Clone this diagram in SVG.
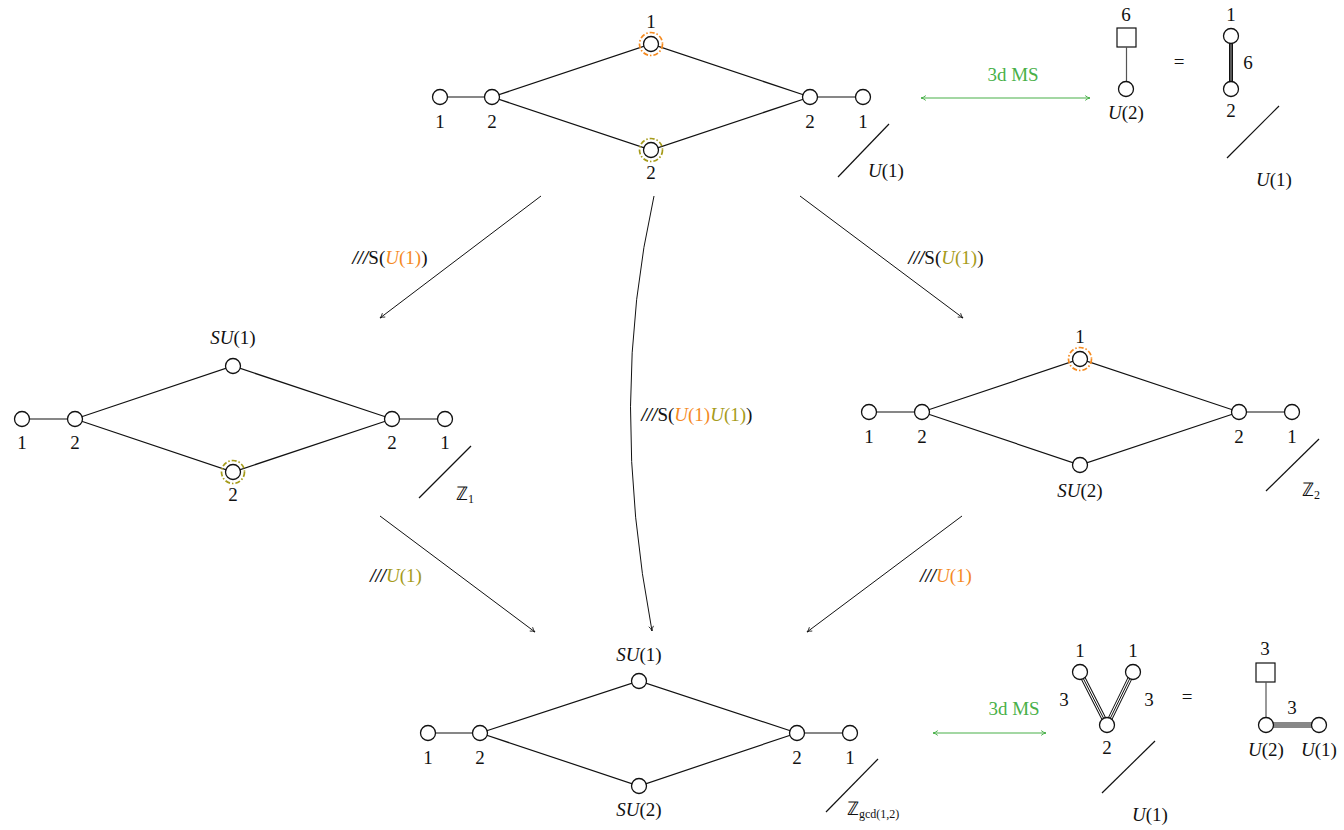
<svg xmlns="http://www.w3.org/2000/svg" width="1344" height="830" viewBox="0 0 1344 830">
<style>
text{font-family:'Liberation Serif','Times New Roman',serif;font-size:19px;fill:#111;text-anchor:middle}
.it{font-style:italic}
.n{fill:#fff;stroke:#111;stroke-width:1.3}
.e{stroke:#111;stroke-width:1.2;fill:none}
.g{stroke:#555;stroke-width:1.2;fill:none}
.or{fill:#f58a1f}
.ol{fill:#a69b1a}
.gr{fill:#48b048}
.sl{font-style:italic;font-weight:bold}
.co{fill:none;stroke:#f58a1f;stroke-width:1.7;stroke-dasharray:5 2 1.5 2}
.cl{fill:none;stroke:#a69b1a;stroke-width:1.7;stroke-dasharray:5 2 1.5 2}
.arr{stroke:#111;stroke-width:1;fill:none;marker-end:url(#ah)}
.garr{stroke:#48b048;stroke-width:1.2;fill:none;marker-end:url(#gh);marker-start:url(#gs)}
</style>
<defs>
<marker id="ah" viewBox="0 0 10 10" refX="9" refY="5" markerWidth="8" markerHeight="8" markerUnits="userSpaceOnUse" orient="auto"><path d="M3,2 Q6,4.5 9,5 Q6,5.5 3,8" fill="none" stroke="#111" stroke-width="1"/></marker>
<marker id="gh" viewBox="0 0 10 10" refX="9" refY="5" markerWidth="8" markerHeight="8" markerUnits="userSpaceOnUse" orient="auto"><path d="M3,2 Q6,4.5 9,5 Q6,5.5 3,8" fill="none" stroke="#48b048" stroke-width="1.2"/></marker>
<marker id="gs" viewBox="0 0 10 10" refX="1" refY="5" markerWidth="8" markerHeight="8" markerUnits="userSpaceOnUse" orient="auto"><path d="M7,2 Q4,4.5 1,5 Q4,5.5 7,8" fill="none" stroke="#48b048" stroke-width="1.2"/></marker>
</defs>

<g id="connectors">
<path class="arr" d="M541,196 L380,318"/>
<path class="arr" d="M800,196 L963,318"/>
<path class="arr" d="M654,196 Q608,400 652,631"/>
<path class="arr" d="M380,516 L535,632"/>
<path class="arr" d="M962,516 L807,632"/>
<path class="garr" d="M921,98 L1090,98"/>
<path class="garr" d="M933,733 L1046,733"/>
<text x="390" y="264"><tspan class="sl">///</tspan>S(<tspan class="it or">U</tspan><tspan class="or">(1)</tspan>)</text>
<text x="946" y="264"><tspan class="sl">///</tspan>S(<tspan class="it ol">U</tspan><tspan class="ol">(1)</tspan>)</text>
<text x="697" y="421"><tspan class="sl">///</tspan>S(<tspan class="it or">U</tspan><tspan class="or">(1)</tspan><tspan class="it ol">U</tspan><tspan class="ol">(1)</tspan>)</text>
<text x="396" y="582"><tspan class="sl">///</tspan><tspan class="it ol">U</tspan><tspan class="ol">(1)</tspan></text>
<text x="946" y="582"><tspan class="sl">///</tspan><tspan class="it or">U</tspan><tspan class="or">(1)</tspan></text>
<text class="gr" x="1013" y="81">3d MS</text>
<text class="gr" x="1014" y="715">3d MS</text>
</g>

<g id="quiver-top">
<path class="e" d="M440,97 L492,97 L651,44 L810,97 L863,97 M492,97 L651,150 L810,97"/>
<circle class="n" cx="440" cy="97" r="7.5"/><circle class="n" cx="492" cy="97" r="7.5"/>
<circle class="n" cx="651" cy="44" r="7.5"/><circle class="n" cx="651" cy="150" r="7.5"/>
<circle class="n" cx="810" cy="97" r="7.5"/><circle class="n" cx="863" cy="97" r="7.5"/>
<circle class="co" cx="651" cy="44" r="11.5"/><circle class="cl" cx="651" cy="150" r="11.5"/>
<text x="440" y="128">1</text><text x="492" y="128">2</text><text x="651" y="28">1</text>
<text x="651" y="179">2</text><text x="810" y="128">2</text><text x="863" y="128">1</text>
<path class="e" d="M838,177 L889,124"/>
<text x="886" y="177"><tspan class="it">U</tspan>(1)</text>
</g>

<g id="mirror-top">
<rect x="1117" y="28" width="19" height="19" fill="#fff" stroke="#111" stroke-width="1.2"/>
<path class="g" d="M1126.5,47 L1126.5,82"/>
<circle class="n" cx="1126" cy="89" r="7.5"/>
<text x="1126" y="21">6</text>
<text x="1126" y="119"><tspan class="it">U</tspan>(2)</text>
<text x="1179" y="68">=</text>
<path d="M1231,43 L1231,82" stroke="#111" stroke-width="4"/>
<path d="M1231,43 L1231,82" stroke="#777" stroke-width="1.4"/>
<circle class="n" cx="1231" cy="36" r="7.5"/><circle class="n" cx="1231" cy="89" r="7.5"/>
<text x="1231" y="21">1</text><text x="1231" y="117">2</text><text x="1248" y="69">6</text>
<path class="e" d="M1227,158 L1279,106"/>
<text x="1274" y="186"><tspan class="it">U</tspan>(1)</text>
</g>

<g id="quiver-left">
<path class="e" d="M22,419 L75,419 L233,366 L392,419 L445,419 M75,419 L233,472 L392,419"/>
<circle class="n" cx="22" cy="419" r="7.5"/><circle class="n" cx="75" cy="419" r="7.5"/>
<circle class="n" cx="233" cy="366" r="7.5"/><circle class="n" cx="233" cy="472" r="7.5"/>
<circle class="n" cx="392" cy="419" r="7.5"/><circle class="n" cx="445" cy="419" r="7.5"/>
<circle class="cl" cx="233" cy="472" r="11.5"/>
<text x="22" y="449">1</text><text x="75" y="449">2</text>
<text x="233" y="344"><tspan class="it">SU</tspan>(1)</text>
<text x="233" y="501">2</text><text x="392" y="449">2</text><text x="445" y="449">1</text>
<path class="e" d="M419,498 L471,446"/>
<text x="456" y="500" style="text-anchor:start">ℤ<tspan font-size="12" dy="3">1</tspan></text>
</g>

<g id="quiver-right">
<path class="e" d="M869,412 L922,412 L1080,359 L1239,412 L1292,412 M922,412 L1080,465 L1239,412"/>
<circle class="n" cx="869" cy="412" r="7.5"/><circle class="n" cx="922" cy="412" r="7.5"/>
<circle class="n" cx="1080" cy="359" r="7.5"/><circle class="n" cx="1080" cy="465" r="7.5"/>
<circle class="n" cx="1239" cy="412" r="7.5"/><circle class="n" cx="1292" cy="412" r="7.5"/>
<circle class="co" cx="1080" cy="359" r="11.5"/>
<text x="869" y="443">1</text><text x="922" y="443">2</text>
<text x="1080" y="343">1</text>
<text x="1080" y="497"><tspan class="it">SU</tspan>(2)</text>
<text x="1239" y="443">2</text><text x="1292" y="443">1</text>
<path class="e" d="M1266,491 L1319,439"/>
<text x="1302" y="496" style="text-anchor:start">ℤ<tspan font-size="12" dy="3">2</tspan></text>
</g>

<g id="quiver-bottom">
<path class="e" d="M428,733 L480,733 L639,681 L797,733 L850,733 M480,733 L639,786 L797,733"/>
<circle class="n" cx="428" cy="733" r="7.5"/><circle class="n" cx="480" cy="733" r="7.5"/>
<circle class="n" cx="639" cy="681" r="7.5"/><circle class="n" cx="639" cy="786" r="7.5"/>
<circle class="n" cx="797" cy="733" r="7.5"/><circle class="n" cx="850" cy="733" r="7.5"/>
<text x="428" y="764">1</text><text x="480" y="764">2</text>
<text x="639" y="661"><tspan class="it">SU</tspan>(1)</text>
<text x="639" y="816"><tspan class="it">SU</tspan>(2)</text>
<text x="797" y="764">2</text><text x="850" y="764">1</text>
<path class="e" d="M826,812 L878,759"/>
<text x="847" y="815" style="text-anchor:start">ℤ<tspan font-size="12" dy="3">gcd(1,2)</tspan></text>
</g>

<g id="mirror-bottom">
<path d="M1080,672 L1107,725 L1133,672" fill="none" stroke="#111" stroke-width="5"/>
<path d="M1080,672 L1107,725 L1133,672" fill="none" stroke="#fff" stroke-width="3"/>
<path d="M1080,672 L1107,725 L1133,672" fill="none" stroke="#111" stroke-width="1"/>
<circle class="n" cx="1080" cy="672" r="7.5"/><circle class="n" cx="1133" cy="672" r="7.5"/>
<circle class="n" cx="1107" cy="725" r="7.5"/>
<text x="1080" y="657">1</text><text x="1133" y="657">1</text>
<text x="1064" y="706">3</text><text x="1149" y="706">3</text>
<text x="1107" y="754">2</text>
<path class="e" d="M1102,793 L1155,741"/>
<text x="1150" y="821"><tspan class="it">U</tspan>(1)</text>
<text x="1187" y="703">=</text>
<rect x="1256" y="663" width="19" height="19" fill="#fff" stroke="#111" stroke-width="1.2"/>
<path class="g" d="M1266,682 L1266,718"/>
<path d="M1266,725 L1319,725" stroke="#111" stroke-width="5"/>
<path d="M1266,725 L1319,725" stroke="#fff" stroke-width="3"/>
<path d="M1266,725 L1319,725" stroke="#111" stroke-width="1"/>
<circle class="n" cx="1266" cy="725" r="7.5"/><circle class="n" cx="1319" cy="725" r="7.5"/>
<text x="1265" y="655">3</text><text x="1292" y="714">3</text>
<text x="1266" y="756"><tspan class="it">U</tspan>(2)</text>
<text x="1319" y="756"><tspan class="it">U</tspan>(1)</text>
</g>
</svg>
